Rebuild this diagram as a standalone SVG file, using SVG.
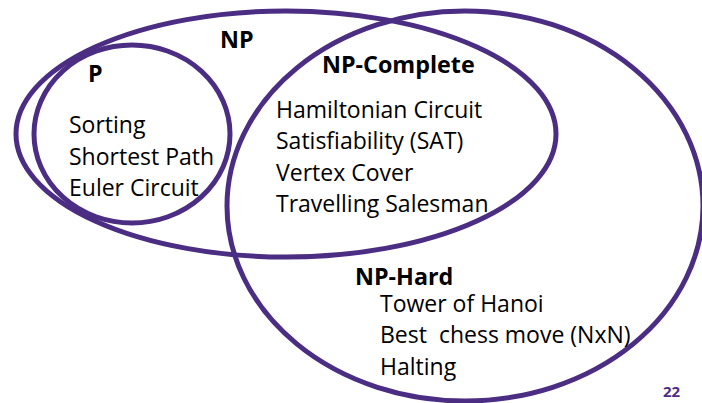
<svg xmlns="http://www.w3.org/2000/svg" width="702" height="403" viewBox="0 0 702 403">
<style>
.ring{fill:none;stroke:#4B2E83;stroke-width:5}
.t{font-family:"Open Sans","Liberation Sans",sans-serif;font-size:23px;fill:#000;white-space:pre}
.h{font-family:"Open Sans","Liberation Sans",sans-serif;font-size:23.3px;font-weight:bold;fill:#000}
.pg{font-family:"Open Sans","Liberation Sans",sans-serif;font-size:15px;font-weight:bold;fill:#4B2E83}
</style>
<rect width="702" height="403" fill="#fff"/>
<g id="connectors"></g>
<g id="np">
<ellipse class="ring" cx="286" cy="134" rx="270" ry="123"/>
<text class="h" x="220" y="48">NP</text>
</g>
<g id="p">
<ellipse class="ring" cx="132" cy="134" rx="98" ry="89"/>
<text class="h" x="88" y="82">P</text>
<text class="t" x="69" y="133">Sorting</text>
<text class="t" x="69" y="165">Shortest Path</text>
<text class="t" x="69" y="196">Euler Circuit</text>
</g>
<g id="np-hard">
<ellipse class="ring" cx="465" cy="206" rx="238" ry="195"/>
<text class="h" x="355" y="285">NP-Hard</text>
<text class="t" x="380" y="312">Tower of Hanoi</text>
<text class="t" x="380" y="343">Best  chess move (NxN)</text>
<text class="t" x="380" y="375">Halting</text>
</g>
<g id="np-complete">
<text class="h" x="322" y="73">NP-Complete</text>
<text class="t" x="276" y="118">Hamiltonian Circuit</text>
<text class="t" x="276" y="149">Satisfiability (SAT)</text>
<text class="t" x="276" y="181">Vertex Cover</text>
<text class="t" x="276" y="212">Travelling Salesman</text>
</g>
<text class="pg" x="663" y="397">22</text>
</svg>
